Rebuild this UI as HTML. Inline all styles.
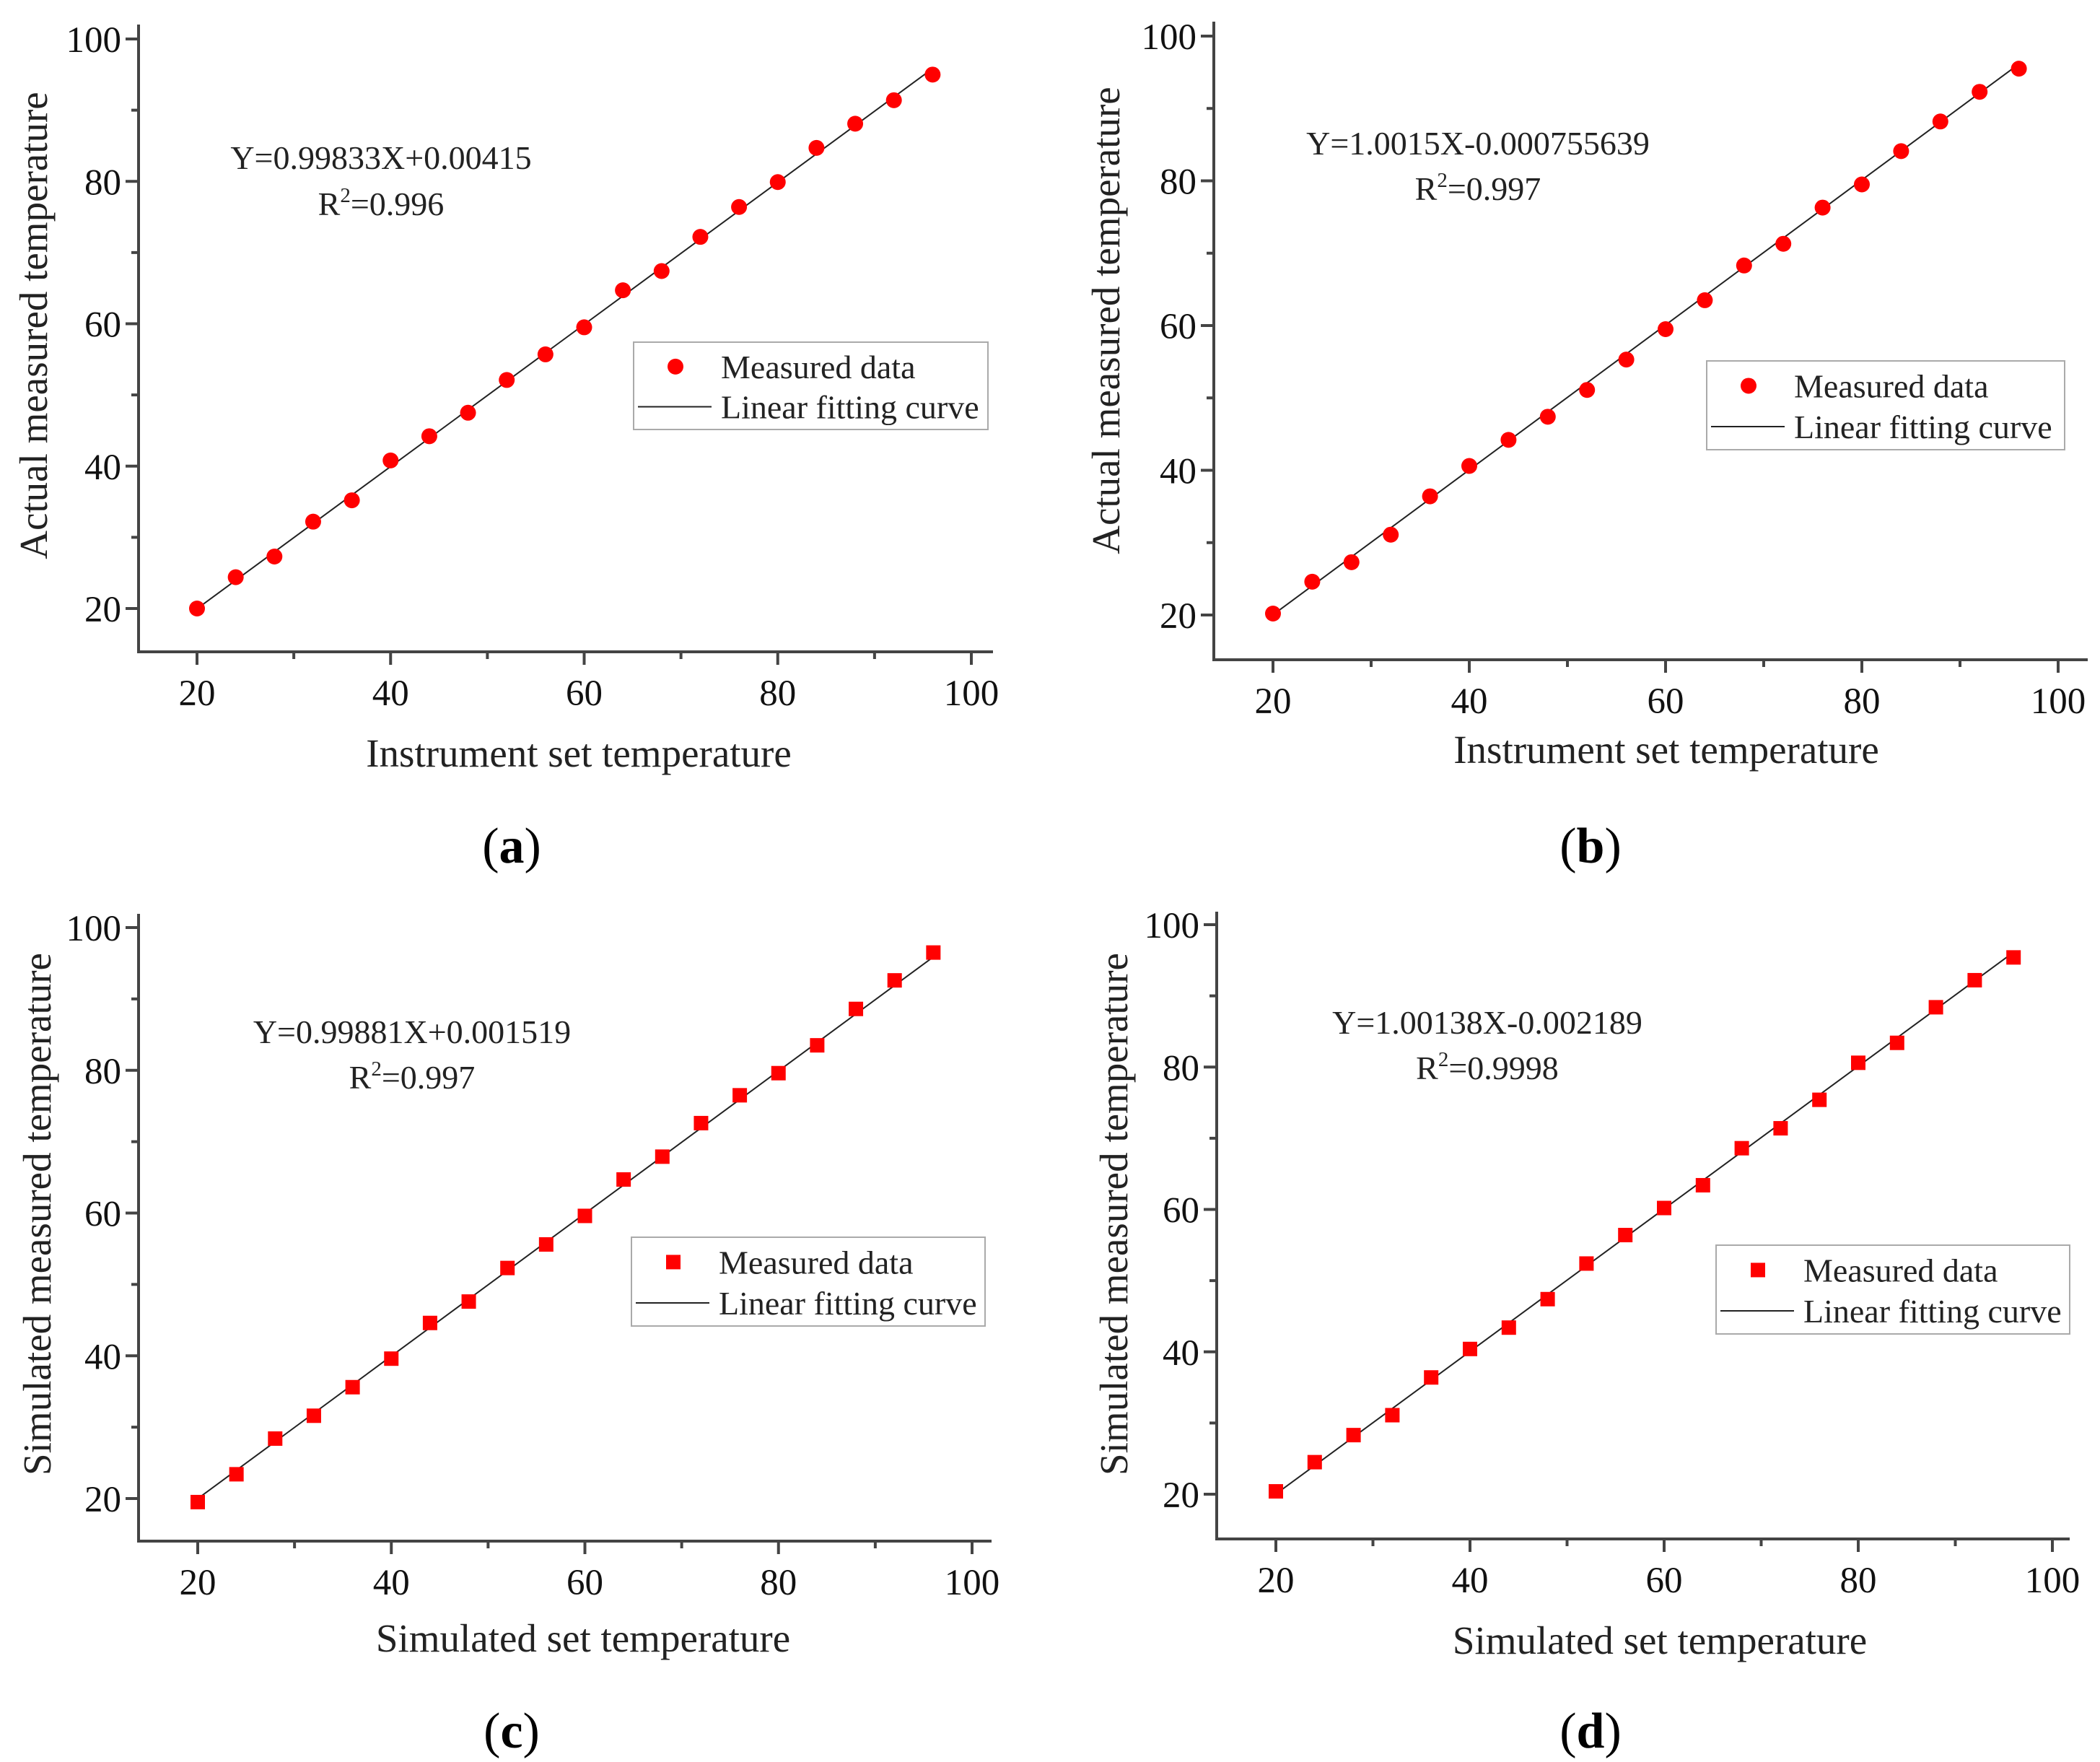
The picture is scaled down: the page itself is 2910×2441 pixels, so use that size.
<!DOCTYPE html>
<html><head><meta charset="utf-8"><style>
html,body{margin:0;padding:0;background:#fff}
svg{display:block;font-family:"Liberation Serif",serif}
</style></head><body>
<svg id="fig" width="2910" height="2441" viewBox="0 0 2910 2441" xmlns="http://www.w3.org/2000/svg"></svg>
<script>
const xCats=[20,24,28,32,36,40,44,48,52,56,60,64,68,72,76,80,84,88,92,96];
const seriesA=[20,24.4,27.3,32.2,35.2,40.8,44.2,47.5,52.1,55.7,59.5,64.7,67.4,72.2,76.4,79.9,84.7,88.1,91.4,95.0];
const seriesB=[20.2,24.6,27.3,31.1,36.4,40.6,44.2,47.4,51.1,55.3,59.5,63.5,68.3,71.3,76.3,79.5,84.1,88.2,92.3,95.5];
const seriesC=[19.5,23.4,28.4,31.6,35.6,39.6,44.6,47.6,52.3,55.6,59.6,64.7,67.9,72.6,76.5,79.6,83.5,88.6,92.6,96.5];
const seriesD=[20.4,24.5,28.3,31.1,36.4,40.4,43.4,47.4,52.4,56.4,60.2,63.4,68.6,71.4,75.4,80.6,83.4,88.4,92.2,95.4];
const fitSlope=[0.99833,1.0015,0.99881,1.00138];
const fitIntercept=[0.00415,-0.000755639,0.001519,-0.002189];
const tickLabels=[20,40,60,80,100];
const eqLabels=["Y=0.99833X+0.00415","Y=1.0015X-0.000755639","Y=0.99881X+0.001519","Y=1.00138X-0.002189"];
const r2Labels=["0.996","0.997","0.997","0.9998"];
const panels=[
 {id:'a',data:seriesA,shape:'circle',L:192,B:903,R:1376,T:34,x20:273,x100:1346,y20:843,y100:54,leg:[878,474,1369,595],eq:[528,218,282],yt:[47,451,'Actual measured temperature'],xt:[802,1044,'Instrument set temperature'],lab:[709,1171]},
 {id:'b',data:seriesB,shape:'circle',L:1682,B:914,R:2893,T:30,x20:1764,x100:2852,y20:852,y100:50,leg:[2365,500,2861,623],eq:[2048,198,261],yt:[1533,444,'Actual measured temperature'],xt:[2309,1039,'Instrument set temperature'],lab:[2204,1171]},
 {id:'c',data:seriesC,shape:'square',L:192,B:2135,R:1374,T:1266,x20:274,x100:1347,y20:2076,y100:1285,leg:[875,1714,1365,1837],eq:[571,1429,1492],yt:[52,1682,'Simulated measured temperature'],xt:[808,2270,'Simulated set temperature'],lab:[709,2397]},
 {id:'d',data:seriesD,shape:'square',L:1686,B:2132,R:2868,T:1263,x20:1768,x100:2844,y20:2070,y100:1281,leg:[2378,1725,2868,1848],eq:[2061,1416,1479],yt:[1544,1682,'Simulated measured temperature'],xt:[2300,2273,'Simulated set temperature'],lab:[2204,2397]}
];
const NS='http://www.w3.org/2000/svg';
const svg=document.getElementById('fig');
function mk(tag,attrs,parent,text){const e=document.createElementNS(NS,tag);for(const k in attrs)e.setAttribute(k,attrs[k]);if(text!==undefined)e.textContent=text;(parent||svg).appendChild(e);return e;}
panels.forEach((p,pi)=>{
 const g=mk('g',{});
 
 
 const sx=v=>p.x20+(v-20)*(p.x100-p.x20)/80;
 const sy=v=>p.y20-(v-20)*(p.y20-p.y100)/80;
 const ax=mk('path',{d:`M${p.L} ${p.T}V${p.B}H${p.R}`,fill:'none',stroke:'#444','stroke-width':4},g);
 
 
 for(let v=20;v<=100;v+=10){
  const major=v%20===0;
  const x=sx(v),y=sy(v);
  mk('line',{x1:x,y1:p.B,x2:x,y2:p.B+(major?18:10),stroke:'#444','stroke-width':4},g);
  mk('line',{x1:p.L,y1:y,x2:p.L-(major?18:10),y2:y,stroke:'#444','stroke-width':4},g);
 }
 tickLabels.forEach(v=>{
  const t1=mk('text',{x:sx(v),y:p.B+74,'font-size':51,'text-anchor':'middle',fill:'#111'},g,String(v));
  
  
  const t2=mk('text',{x:p.L-24,y:sy(v)+18,'font-size':51,'text-anchor':'end',fill:'#111'},g,String(v));
  
  
 });
 const m=fitSlope[pi],b=fitIntercept[pi];
 const fl=mk('line',{x1:sx(20),y1:sy(m*20+b),x2:sx(96),y2:sy(m*96+b),stroke:'#222','stroke-width':2},g);
 
 
 p.data.forEach((v,i)=>{
  const x=sx(xCats[i]),y=sy(v);
  let e;
  if(p.shape==='circle') e=mk('circle',{cx:x,cy:y,r:11,fill:'#f00'},g);
  else e=mk('rect',{x:x-10,y:y-10,width:20,height:20,fill:'#f00'},g);
  
  
 });
 const eq=mk('text',{x:p.eq[0],y:p.eq[1]+16,'font-size':46,'text-anchor':'middle',fill:'#222'},g,eqLabels[pi]);
 
 
 const r2=mk('text',{x:p.eq[0],y:p.eq[2]+16,'font-size':46,'text-anchor':'middle',fill:'#222'},g);
 
 
 mk('tspan',{},r2,'R');mk('tspan',{'font-size':29,dy:-18},r2,'2');mk('tspan',{dy:18},r2,'='+r2Labels[pi]);
 const [lx1,ly1,lx2,ly2]=p.leg;
 const lg=mk('g',{},g);
 
 
 mk('rect',{x:lx1,y:ly1,width:lx2-lx1,height:ly2-ly1,fill:'#fff',stroke:'#aaa','stroke-width':2},lg);
 const my=ly1+(ly2-ly1)*0.28, ly=ly1+(ly2-ly1)*0.74;
 if(p.shape==='circle') mk('circle',{cx:lx1+58,cy:my,r:11,fill:'#f00'},lg);
 else mk('rect',{x:lx1+48,y:my-10,width:20,height:20,fill:'#f00'},lg);
 mk('line',{x1:lx1+6,y1:ly,x2:lx1+108,y2:ly,stroke:'#222','stroke-width':2},lg);
 mk('text',{x:lx1+121,y:my+16,'font-size':46,fill:'#222'},lg,'Measured data');
 mk('text',{x:lx1+121,y:ly+16,'font-size':46,fill:'#222'},lg,'Linear fitting curve');
 const yt=mk('text',{x:p.yt[0],y:p.yt[1],'font-size':55,'text-anchor':'middle',fill:'#222',transform:`rotate(-90 ${p.yt[0]} ${p.yt[1]})`,dy:18},g,p.yt[2]);
 
 
 const xt=mk('text',{x:p.xt[0],y:p.xt[1]+18,'font-size':55,'text-anchor':'middle',fill:'#222'},g,p.xt[2]);
 
 
 const lb=mk('text',{x:p.lab[0],y:p.lab[1]+24,'font-size':70,'text-anchor':'middle',fill:'#000'},g);
 
 
 mk('tspan',{},lb,'(');mk('tspan',{'font-weight':'bold'},lb,p.id);mk('tspan',{},lb,')');
});
</script>
</body></html>
